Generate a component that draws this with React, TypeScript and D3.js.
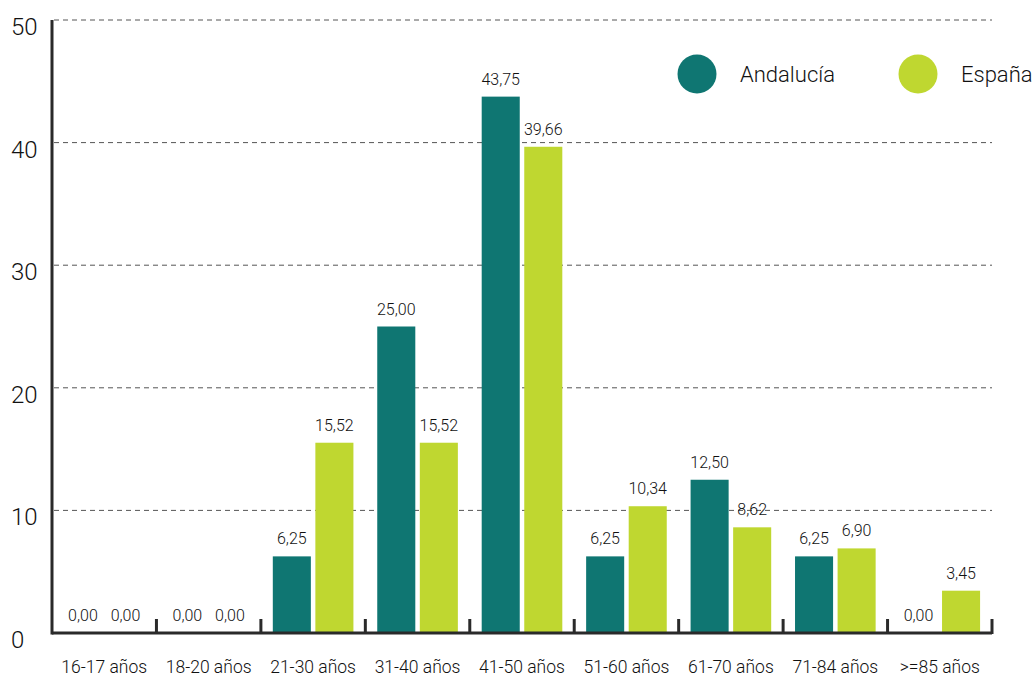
import { useEffect, useRef } from 'react';
import * as d3 from 'd3';

const categories = ['16-17 años', '18-20 años', '21-30 años', '31-40 años', '41-50 años', '51-60 años', '61-70 años', '71-84 años', '>=85 años'];
const andalucia = [0, 0, 6.25, 25.0, 43.75, 6.25, 12.5, 6.25, 0];
const espana = [0, 0, 15.52, 15.52, 39.66, 10.34, 8.62, 6.9, 3.45];
const yTicks = [0, 10, 20, 30, 40, 50];
const seriesNames = ['Andalucía', 'España'];
const colors = ['#0f7672', '#bfd730'];

export default function App() {
  const svgRef = useRef<SVGSVGElement>(null);
  const width = 1035;
  const height = 678;

  useEffect(() => {
    if (!svgRef.current) return;
    const svg = d3.select(svgRef.current);
    svg.selectAll('*').remove();

    const margin = { top: 20, right: 43, bottom: 45, left: 52 };
    const innerWidth = width - margin.left - margin.right;
    const innerHeight = height - margin.top - margin.bottom;
    const font = 'Roboto, "Open Sans", sans-serif';
    const textColor = '#111';

    const x = d3.scaleBand().domain(categories).range([0, innerWidth]);
    const xSeries = d3.scaleBand().domain(seriesNames).range([0, x.bandwidth()])
      .paddingInner(0.106).paddingOuter(0.28);
    const y = d3.scaleLinear().domain([0, 50]).range([innerHeight, 0]);

    const g = svg.append('g').attr('transform', `translate(${margin.left},${margin.top})`);

    // gridlines
    g.selectAll('line.grid')
      .data(yTicks.filter(t => t > 0))
      .enter()
      .append('line')
      .attr('x1', 2)
      .attr('x2', innerWidth)
      .attr('y1', d => y(d))
      .attr('y2', d => y(d))
      .attr('stroke', '#555')
      .attr('stroke-width', 1)
      .attr('stroke-dasharray', '5,4');

    // y tick labels
    g.selectAll('text.ytick')
      .data(yTicks)
      .enter()
      .append('text')
      .attr('x', -41)
      .attr('y', d => y(d) + 15)
      .attr('font-family', font)
      .attr('font-weight', 300)
      .attr('font-size', 24)
      .attr('fill', textColor)
      .text(d => d);

    const data = categories.map((c, i) => ({ cat: c, values: [andalucia[i], espana[i]] }));

    const groups = g.selectAll('g.cat')
      .data(data)
      .enter()
      .append('g')
      .attr('transform', d => `translate(${x(d.cat)},0)`);

    groups.selectAll('rect')
      .data(d => d.values.map((v, j) => ({ v, s: seriesNames[j], j })))
      .enter()
      .append('rect')
      .attr('x', d => xSeries(d.s) as number)
      .attr('y', d => y(d.v) - (d.v === 0 ? 1 : 0))
      .attr('width', xSeries.bandwidth())
      .attr('height', d => innerHeight - y(d.v) + (d.v === 0 ? 1 : 0))
      .attr('fill', d => colors[d.j]);

    groups.selectAll('text')
      .data(d => d.values.map((v, j) => ({ v, s: seriesNames[j] })))
      .enter()
      .append('text')
      .attr('x', d => (xSeries(d.s) as number) + xSeries.bandwidth() / 2)
      .attr('y', d => y(d.v) - 12)
      .attr('text-anchor', 'middle')
      .attr('font-family', font)
      .attr('font-weight', 300)
      .attr('font-size', 16)
      .attr('fill', textColor)
      .text(d => d3.format('.2f')(d.v).replace('.', ','));

    // x axis
    g.append('line')
      .attr('x1', 0).attr('x2', innerWidth)
      .attr('y1', innerHeight).attr('y2', innerHeight)
      .attr('stroke', '#2a2a2a').attr('stroke-width', 3);

    const boundaries = categories.map(c => x(c) as number).concat([innerWidth]);
    g.selectAll('line.xtick')
      .data(boundaries.slice(1))
      .enter()
      .append('line')
      .attr('x1', d => d).attr('x2', d => d)
      .attr('y1', innerHeight - 14).attr('y2', innerHeight + 1)
      .attr('stroke', '#2a2a2a').attr('stroke-width', 3);

    g.selectAll('text.xlabel')
      .data(categories)
      .enter()
      .append('text')
      .attr('x', d => (x(d) as number) + x.bandwidth() / 2)
      .attr('y', innerHeight + 40)
      .attr('text-anchor', 'middle')
      .attr('font-family', font)
      .attr('font-weight', 300)
      .attr('font-size', 17.5)
      .attr('fill', textColor)
      .text(d => d);

    // y axis
    g.append('line')
      .attr('x1', 0).attr('x2', 0)
      .attr('y1', 0).attr('y2', innerHeight + 1.5)
      .attr('stroke', '#2a2a2a').attr('stroke-width', 3);

    // legend
    const legend = svg.append('g');
    const legendX = [697, 918];
    seriesNames.forEach((name, i) => {
      legend.append('circle')
        .attr('cx', legendX[i]).attr('cy', 74).attr('r', 19.5)
        .attr('fill', colors[i]);
      legend.append('text')
        .attr('x', legendX[i] + 43).attr('y', 82)
        .attr('font-family', font)
        .attr('font-weight', 300)
        .attr('font-size', 22)
        .attr('fill', textColor)
        .text(name);
    });
  }, []);

  return (
    <svg ref={svgRef} width={width} height={height}
      style={{ position: 'absolute', left: 0, top: 0, background: '#fff' }} />
  );
}
